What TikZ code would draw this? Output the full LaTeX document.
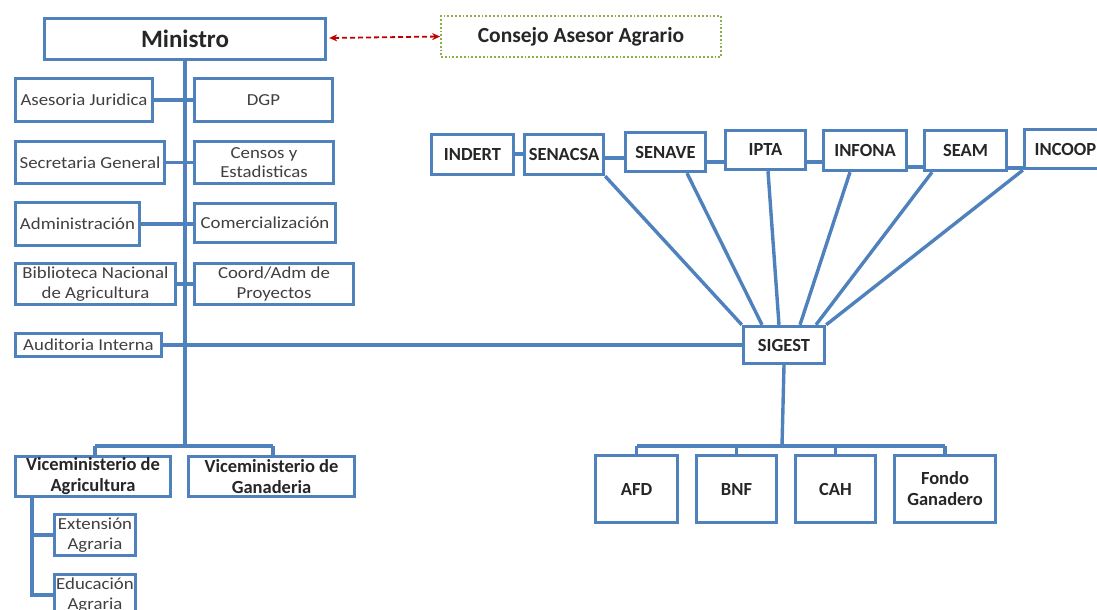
\documentclass[tikz,border=0pt]{standalone}
\usepackage{fontspec}
\setmainfont{Carlito}
\newfontfamily\widefont[FakeStretch=1.12]{Carlito}
\usetikzlibrary{arrows.meta}
\definecolor{bb}{RGB}{79,129,189}
\definecolor{gg}{RGB}{140,175,75}
\definecolor{rr}{RGB}{192,0,0}
\tikzset{
  box/.style={draw=bb, line width=3.4pt, fill=white, inner sep=0pt, align=center, text=black!85},
  lt/.style={font=\widefont\fontsize{16.8}{19.5}\selectfont, text=black!75},
  bt/.style={font=\bfseries\fontsize{18.5}{21}\selectfont},
  conn/.style={draw=bb, line width=3.4pt},
}
\newcommand\bx[7][]{\node[box,#1, minimum width={(#5-#3-3)*1pt}, minimum height={(#6-#4-3)*1pt}] (#2) at ({(#3+#5)/2},{(#4+#6)/2}) {#7};}
\begin{document}
\begin{tikzpicture}[x=1pt,y=-1pt]
\useasboundingbox (0,0) rectangle (1097,610);
\clip (0,0) rectangle (1097,610);
\coordinate (vbot) at (185,446);
\coordinate (vl) at (95,446);
\coordinate (vr) at (273,446);
\coordinate (sbot) at (782,446);
\coordinate (agrdown) at (32,595);
\coordinate (agrmid) at (32,535);
% boxes
\bx[lt]{ministro}{43}{17}{327}{61}{}
\bx[lt]{asesoria}{14}{77}{154}{123}{Asesoria Juridica}
\bx[lt]{dgp}{193}{77}{334}{123}{DGP}
\bx[lt]{secretaria}{14}{140}{166}{185}{Secretaria General}
\bx[lt]{censos}{193}{140}{335}{185}{Censos y\\Estadisticas}
\bx[lt]{admin}{14}{201}{141}{247}{Administración}
\bx[lt]{comerc}{193}{202}{337}{244}{Comercialización}
\bx[lt]{biblio}{14}{262}{177}{306}{Biblioteca Nacional\\de Agricultura}
\bx[lt]{coord}{193}{262}{355}{306}{Coord/Adm de\\Proyectos}
\bx[lt]{audit}{14}{332}{163}{358}{Auditoria Interna}
\bx[bt]{vagr}{14}{455}{172}{498}{Viceministerio de\\Agricultura}
\bx[bt]{vgan}{187}{455}{356}{498}{Viceministerio de\\Ganaderia}
\bx[lt]{ext}{53}{513}{137}{557}{Extensión\\Agraria}
\bx[lt]{edu}{53}{573}{137}{617}{Educación\\Agraria}
\bx[bt]{indert}{430}{133}{515}{176}{INDERT}
\bx[bt]{senacsa}{523}{133}{605}{176}{SENACSA}
\bx[bt]{senave}{624}{131}{707}{173}{SENAVE}
\bx[bt]{ipta}{724}{129}{807}{171}{IPTA}
\bx[bt]{infona}{822}{129}{908}{172}{INFONA}
\bx[bt]{seam}{923}{129}{1008}{172}{SEAM}
\bx[bt]{incoop}{1023}{128}{1108}{170}{INCOOP}
\bx[bt]{sigest}{742}{325}{826}{365}{SIGEST}
\bx[bt]{afd}{594}{454}{679}{524}{AFD}
\bx[bt]{bnf}{695}{454}{778}{524}{BNF}
\bx[bt]{cah}{794}{454}{877}{524}{CAH}
\bx[bt]{fondo}{893}{454}{997}{524}{Fondo\\Ganadero}
\node[draw=gg, dotted, line width=1.8pt, fill=white, minimum width=280pt, minimum height=41pt, inner sep=0pt, font=\bfseries\fontsize{21.5}{24}\selectfont, text=black!85] (consejo) at (581,36.5) {Consejo Asesor Agrario};
\node[font=\bfseries\fontsize{25}{28}\selectfont, text=black!85] at (ministro) {Ministro};
% ---- connectors ----
\path[conn] (ministro.south) -- (vbot);
\path[conn] (vl) -- (vr);
\path[conn] (vagr.north -| vl) -- (vl);
\path[conn] (vgan.north -| vr) -- (vr);
\path[conn] (asesoria.east) -- (dgp.west);
\path[conn] (secretaria.east) -- (censos.west |- secretaria.east);
\path[conn] (admin.east) -- (comerc.west |- admin.east);
\path[conn] (biblio.east) -- (coord.west);
\path[conn] (audit.east) -- (sigest.west);
\path[conn] (vagr.south -| agrdown) -- (agrdown) -- (edu.west);
\path[conn] (agrmid) -- (ext.west);
\path[conn] (indert.east |- 0,154) -- (senacsa.west |- 0,154);
\path[conn] (senacsa.east |- 0,158) -- (senave.west |- 0,158);
\path[conn] (senave.east |- 0,162) -- (ipta.west |- 0,162);
\path[conn] (ipta.east |- 0,162) -- (infona.west |- 0,162);
\path[conn] (infona.east |- 0,167) -- (seam.west |- 0,167);
\path[conn] (seam.east |- 0,168) -- (incoop.west |- 0,168);
\path[conn] (senacsa.south east) -- (sigest.north west);
\path[conn] (senave.south -| 687,0) -- (sigest.north -| 762,0);
\path[conn] (ipta.south -| 768,0) -- (sigest.north -| 779,0);
\path[conn] (infona.south -| 850,0) -- (sigest.north -| 800,0);
\path[conn] (seam.south -| 932,0) -- (sigest.north -| 816,0);
\path[conn] (incoop.south west) -- (sigest.north east);
\path[conn] (sigest.south) -- (sbot);
\path[conn] (afd.north |- sbot) -- (fondo.north |- sbot);
\path[conn] (afd.north |- sbot) -- (afd.north);
\path[conn] (bnf.north |- sbot) -- (bnf.north);
\path[conn] (cah.north |- sbot) -- (cah.north);
\path[conn] (fondo.north |- sbot) -- (fondo.north);
\draw[rr, dash pattern=on 5pt off 3pt, line width=1.8pt, {Stealth[length=8pt,width=7pt]}-{Stealth[length=8pt,width=7pt]}] (ministro.east) ++(2,-1) -- (consejo.west);
\end{tikzpicture}
\end{document}
